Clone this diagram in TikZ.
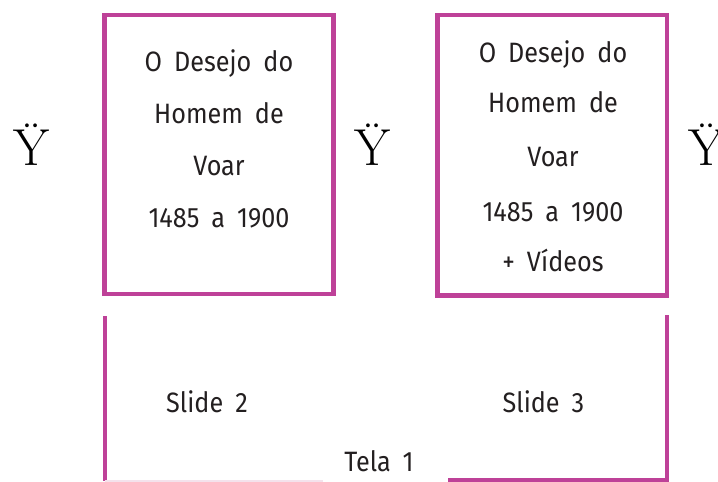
\documentclass[tikz,border=0pt]{standalone}
\usepackage{fontspec}
\setmainfont[FakeStretch=0.9,WordSpace=1.8]{Fira Sans}
\newfontfamily\symfont{Latin Modern Roman}
\definecolor{mag}{RGB}{190,65,152}
\definecolor{faint}{RGB}{244,226,236}
\definecolor{ink}{RGB}{35,31,32}
\tikzset{
  frame/.style={draw=mag, line width=4.6pt, inner sep=0pt},
  edge/.style={draw=mag, line width=4.6pt},
  txt/.style={anchor=base, text=ink, inner sep=0pt, font=\fontsize{28}{32}\selectfont},
  sym/.style={anchor=base, text=black, inner sep=0pt, font=\symfont\fontsize{52}{60}\selectfont}
}
\begin{document}
\begin{tikzpicture}[x=1pt,y=-1pt]
\useasboundingbox (0,0) rectangle (718,482);
% upper boxes
\node[frame, minimum width=229pt, minimum height=279pt] (box1) at (219,154.5) {};
\node[frame, minimum width=229.5pt, minimum height=280.5pt] (box2) at (552.25,155.25) {};
% box 1 text
\node[txt] (a1) at (219,71.5) {O Desejo do};
\node[txt] (a2) at (219,123) {Homem de};
\node[txt] (a3) at (219,175.5) {Voar};
\node[txt] (a4) at (219,227.5) {1485 a 1900};
% box 2 text
\node[txt] (b1) at (553,62.5) {O Desejo do};
\node[txt] (b2) at (553,112.5) {Homem de};
\node[txt] (b3) at (553,166.5) {Voar};
\node[txt] (b4) at (553,221.5) {1485 a 1900};
\node[txt] (b5) at (553,271.5) {+ Vídeos};
% symbols
\node[sym] (y1) at (32,165) {Ÿ};
\node[sym] (y2) at (373,165) {Ÿ};
\node[sym] (y3) at (707,165) {Ÿ};
% lower frame
\coordinate (lt) at (105,316);
\coordinate (lb) at (105,481);
\coordinate (le) at (323,481);
\coordinate (rs) at (448,480.5);
\coordinate (rb) at (667,480.5);
\coordinate (rt) at (667,315);
\draw[edge] (lt) -- (lb);
\draw[faint, line width=1.5pt] (lb) -- (le);
\draw[edge] (rs) -- (rb) -- (rt);
% lower labels
\node[txt] (s2) at (207,412) {Slide 2};
\node[txt] (s3) at (543.5,412) {Slide 3};
\node[txt] (t1) at (379,471.5) {Tela 1};
\end{tikzpicture}
\end{document}
